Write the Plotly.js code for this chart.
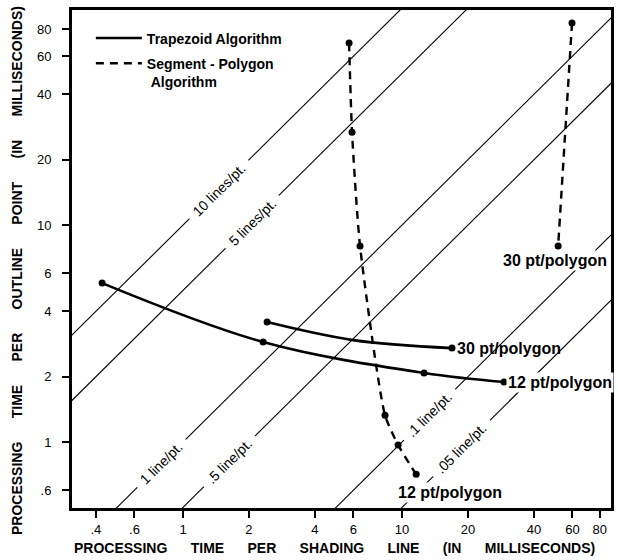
<!DOCTYPE html>
<html><head><meta charset="utf-8">
<script src="https://cdn.plot.ly/plotly-3.0.1.min.js"></script>
<style>html,body{margin:0;padding:0;background:#fff}</style>
</head><body><div id="chart" style="width:618px;height:560px"></div>
<script>
// ---- data ----
// Trapezoid algorithm, 12 and 30 points per polygon
const trap12X = [0.427, 2.32, 12.6, 29.2];
const trap12Y = [5.4, 2.89, 2.08, 1.89];
const trap30X = [2.42, 5.97, 16.9];
const trap30Y = [3.57, 2.95, 2.71];
const trap30Dots = [true, false, true];
// Segment-polygon algorithm, 12 and 30 points per polygon
const seg12X = [5.73, 5.91, 6.43, 8.36, 9.59, 11.6];
const seg12Y = [69, 26.8, 8.0, 1.33, 0.97, 0.71];
const seg30X = [59.7, 51.6];
const seg30Y = [85.3, 8.0];
// constant lines-per-point reference lines
const ratios = [10, 5, 1, 0.5, 0.1, 0.05];
const ratioLabels = ['10 lines/pt.', '5 lines/pt.', '1 line/pt.', '.5 line/pt.', '.1 line/pt.', '.05 line/pt.'];
const ratioLabelX = [1.455, 2.075, 0.797, 1.63, 13.4, 18.7];
const xTickVals = [0.4, 0.6, 1, 2, 4, 6, 10, 20, 40, 60, 80];
const xTickText = ['.4', '.6', '1', '2', '4', '6', '10', '20', '40', '60', '80'];
const yTickVals = [0.6, 1, 2, 4, 6, 10, 20, 40, 60, 80];
const yTickText = ['.6', '1', '2', '4', '6', '10', '20', '40', '60', '80'];
const xTitleWords = ['PROCESSING', 'TIME', 'PER', 'SHADING', 'LINE', '(IN', 'MILLISECONDS)'];
const yTitleWords = ['PROCESSING', 'TIME', 'PER', 'OUTLINE', 'POINT', '(IN', 'MILLISECONDS)'];

// ---- build ----
const NB = '\u00a0';
const lineEnds = [0.1, 1000];
const traces = [];
ratios.forEach(r => {
  traces.push({x: lineEnds, y: lineEnds.map(v => v * r), mode: 'lines', type: 'scatter',
    line: {color: '#000', width: 1.1}, showlegend: false, hoverinfo: 'skip'});
});
const solid = {color: '#000', width: 2.6, shape: 'spline', smoothing: 1};
const dashed = {color: '#000', width: 2.4, dash: '8px,6px', shape: 'spline', smoothing: 0.6};
function addSeries(xs, ys, line, name, group, inLegend, dots) {
  traces.push({x: xs, y: ys, mode: 'lines', type: 'scatter', line: line,
    name: name, legendgroup: group, showlegend: inLegend});
  const keep = xs.map((_, i) => !dots || dots[i]);
  traces.push({x: xs.filter((_, i) => keep[i]), y: ys.filter((_, i) => keep[i]),
    mode: 'markers', type: 'scatter', marker: {color: '#000', size: 7},
    legendgroup: group, showlegend: false});
}
addSeries(trap12X, trap12Y, solid, 'Trapezoid Algorithm', 'a', true);
addSeries(trap30X, trap30Y, solid, '', 'a', false, trap30Dots);
addSeries(seg12X, seg12Y, dashed, 'Segment - Polygon<br>' + NB + 'Algorithm', 'b', true);
addSeries(seg30X, seg30Y, dashed, '', 'b', false);

const L = Math.log10;
const annotations = ratios.map((r, i) => ({
  x: L(ratioLabelX[i]), y: L(ratioLabelX[i] * r), xref: 'x', yref: 'y',
  text: ratioLabels[i], showarrow: false, textangle: -44.7,
  font: {size: 14, color: '#000'}, bgcolor: '#fff', borderpad: 7
}));
const bold = {size: 16, color: '#000', weight: 'bold'};
const n30 = trap30X.length - 1;
annotations.push({x: L(seg30X[1]), y: L(seg30Y[1]), text: '30 pt/polygon', showarrow: false,
  xanchor: 'center', yanchor: 'middle', xshift: -3, yshift: -14, font: bold, bgcolor: '#fff', borderpad: 1});
annotations.push({x: L(trap30X[n30]), y: L(trap30Y[n30]), text: '30 pt/polygon', showarrow: false,
  xanchor: 'left', yanchor: 'middle', xshift: 3, yshift: 0, font: bold});
annotations.push({x: L(trap12X[3]), y: L(trap12Y[3]), text: '12 pt/polygon', showarrow: false,
  xanchor: 'left', yanchor: 'middle', xshift: 2, yshift: 0, font: bold, bgcolor: '#fff', borderpad: 1});
annotations.push({x: L(seg12X[5]), y: L(seg12Y[5]), text: '12 pt/polygon', showarrow: false,
  xanchor: 'left', yanchor: 'middle', xshift: -20, yshift: -18, font: bold, bgcolor: '#fff', borderpad: 1});
// axis titles, placed explicitly so the long spaced text sits where the reference has it
const titleFont = {size: 14, weight: 'bold', color: '#000'};
annotations.push({xref: 'paper', yref: 'paper', x: 0, y: 0.5, xshift: -55, yshift: -12,
  xanchor: 'center', yanchor: 'middle', textangle: -90, showarrow: false,
  text: yTitleWords.join(NB.repeat(6)), font: titleFont});
annotations.push({xref: 'paper', yref: 'paper', x: 0.5, y: 0, xshift: -7, yshift: -40,
  xanchor: 'center', yanchor: 'middle', showarrow: false,
  text: xTitleWords.join(NB.repeat(6)), font: titleFont});

const layout = {
  width: 618, height: 560,
  margin: {l: 72, r: 7, t: 10, b: 52},
  paper_bgcolor: '#fff', plot_bgcolor: '#fff',
  font: {family: 'Liberation Sans, Arial, sans-serif', color: '#000'},
  showlegend: true,
  legend: {x: 0.035, y: 0.975, xanchor: 'left', yanchor: 'top', bgcolor: 'rgba(0,0,0,0)',
    font: {size: 14, weight: 'bold', color: '#000'}, valign: 'top', tracegroupgap: 4, itemwidth: 46},
  xaxis: {type: 'log', range: [-0.507, 1.954], tickvals: xTickVals, ticktext: xTickText,
    ticks: 'outside', ticklen: 7, tickwidth: 2, tickcolor: '#000', showline: true, mirror: true,
    linewidth: 3, linecolor: '#000', showgrid: false, zeroline: false,
    tickfont: {size: 13, color: '#000'}},
  yaxis: {type: 'log', range: [-0.304, 1.991], tickvals: yTickVals, ticktext: yTickText,
    ticks: 'outside', ticklen: 7, tickwidth: 2, tickcolor: '#000', showline: true, mirror: true,
    linewidth: 3, linecolor: '#000', showgrid: false, zeroline: false,
    tickfont: {size: 13, color: '#000'}, ticklabelstandoff: 8},
  annotations: annotations
};
Plotly.newPlot('chart', traces, layout, {displayModeBar: false, staticPlot: true});
</script>
</body></html>
